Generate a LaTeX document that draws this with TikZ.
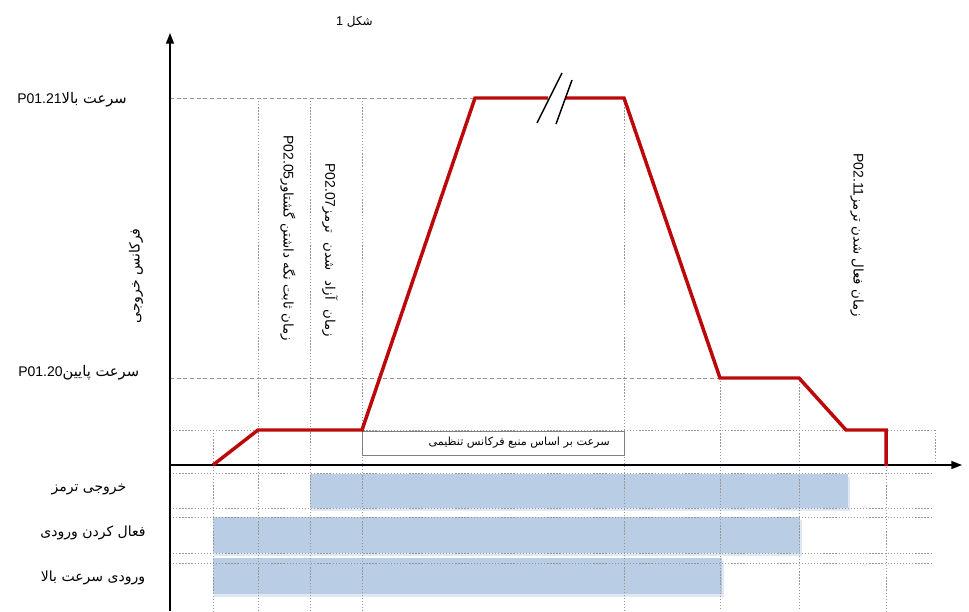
\documentclass[tikz,border=0pt]{standalone}
\usepackage{fontspec}
\setmainfont{Liberation Sans}
\newfontfamily\arfont[Script=Arabic]{DejaVu Sans}
\TeXXeTstate=1
\usetikzlibrary{arrows.meta}
\definecolor{curvered}{RGB}{188,8,8}
\definecolor{barblue}{RGB}{185,205,229}
\definecolor{barshade}{RGB}{224,232,243}
\definecolor{gridgray}{RGB}{150,150,150}
\newcommand\arsz[1]{\arfont\fontsize{#1}{#1}\selectfont}
\begin{document}
\begin{tikzpicture}[x=0.75pt,y=-0.75pt,
  dashline/.style={gridgray, line width=0.6pt, dash pattern=on 3pt off 2pt},
  dotline/.style={gridgray, line width=0.6pt, dash pattern=on 1pt off 1.3pt},
  axisline/.style={black, line width=1pt, -{Triangle[length=8pt,width=6pt]}},
  speed/.style={curvered, line width=2.6pt, line join=miter, line cap=butt},
  slash/.style={black, line width=1.1pt},
  bar/.style={fill=barblue, draw=none},
  barshadow/.style={fill=barshade, draw=none},
  lbl/.style={font=\fontsize{10.5}{12}\selectfont, inner sep=0pt},
  arlbl/.style={font=\fontsize{10.5}{12}\selectfont, inner sep=0pt},
  boxline/.style={gray, line width=0.6pt}
]
\useasboundingbox (0,0) rectangle (969,611);

% bars
\fill[barshadow] (311,477) rectangle (850,511);
\fill[bar] (310,474) rectangle (848,508);
\fill[barshadow] (214,520) rectangle (802,556);
\fill[bar] (213,517) rectangle (800,553);
\fill[barshadow] (214,561) rectangle (724,597);
\fill[bar] (213,558) rectangle (722,594);

% horizontal guides
\draw[dashline] (170,98) -- (475,98);
\draw[dashline] (170,378) -- (720,378);
\draw[dotline] (170,430) -- (935,430);
\foreach \yy in {473,508,517,553,563} \draw[dotline] (170,\yy) -- (932,\yy);

% vertical guides
\draw[dotline] (213,430) -- (213,611);
\foreach \xx in {258,310,362,624} \draw[dotline] (\xx,98) -- (\xx,611);
\foreach \xx in {720,799} \draw[dotline] (\xx,378) -- (\xx,611);
\draw[dotline] (886,430) -- (886,611);
\draw[dotline] (935,430) -- (935,465);

% source box
\draw[boxline] (362,431) rectangle (624,455);
\node[inner sep=0pt, anchor=east] (srcl) at (610,443) {\arsz{8.4}\beginR سرعت بر اساس منبع فرکانس تنظیمی\endR};

% axes
\coordinate (o) at (170,465);
\coordinate (ytop) at (170,33);
\coordinate (ybot) at (170,611);
\coordinate (xend) at (962,465);
\draw[axisline] (ybot) -- (ytop);
\draw[axisline] (o) -- (xend);

% speed curve
\coordinate (p0) at (213,465);
\coordinate (p1) at (258,430);
\coordinate (p2) at (362,430);
\coordinate (p3) at (475,98);
\coordinate (g1) at (548,98);
\coordinate (g2) at (565,98);
\coordinate (p4) at (624,98);
\coordinate (p5) at (720,378);
\coordinate (p6) at (799,378);
\coordinate (p7) at (846,430);
\coordinate (p8) at (886,430);
\coordinate (p9) at (886,466);
\draw[speed] (p0) -- (p1) -- (p2) -- (p3) -- (g1);
\draw[speed] (g2) -- (p4) -- (p5) -- (p6) -- (p7) -- (p8) -- (p9);

% break mark
\coordinate (s1a) at (537,123);
\coordinate (s1b) at (562,73);
\coordinate (s2a) at (556,124);
\coordinate (s2b) at (572,80);
\draw[slash] (s1a) -- (s1b);
\draw[slash] (s2a) -- (s2b);

% labels
\node[inner sep=0pt, anchor=east] (title) at (373,22) {\beginR{\arsz{9}شکل} \beginL\fontsize{9.5}{10}\selectfont 1\endL\endR};
\node[lbl, anchor=west] (hi) at (17,100) {\beginR{\arsz{11}سرعت بالا}\beginL P01.21\endL\endR};
\node[lbl, anchor=west] (lo) at (18,373) {\beginR{\arsz{11}سرعت پایین}\beginL P01.20\endL\endR};
\node[inner sep=0pt, rotate=90] (ylab) at (136,276) {\arsz{10.5}\beginR فرکانس خروجی\endR};

\node[lbl, rotate=-90, anchor=west] (t205) at (288,135) {\beginR{\arsz{10}زمان ثابت نگه داشتن گشتاور}\beginL P02.05\endL\endR};
\node[lbl, rotate=-90, anchor=west] (t207) at (330,163) {\beginR{\arsz{10}زمان\hspace{4pt} آزاد\hspace{4pt} شدن\hspace{4pt} ترمز}\beginL P02.07\endL\endR};
\node[lbl, rotate=-90, anchor=west] (t211) at (857,153) {\beginR{\arsz{10}زمان فعال شدن ترمز}\beginL P02.11\endL\endR};

\node[inner sep=0pt] (l1) at (89,489) {\arsz{10.5}\beginR خروجی ترمز\endR};
\node[inner sep=0pt] (l2) at (93,533) {\arsz{10.5}\beginR فعال کردن ورودی\endR};
\node[inner sep=0pt] (l3) at (93,578) {\arsz{10.5}\beginR ورودی سرعت بالا\endR};
\end{tikzpicture}
\end{document}
